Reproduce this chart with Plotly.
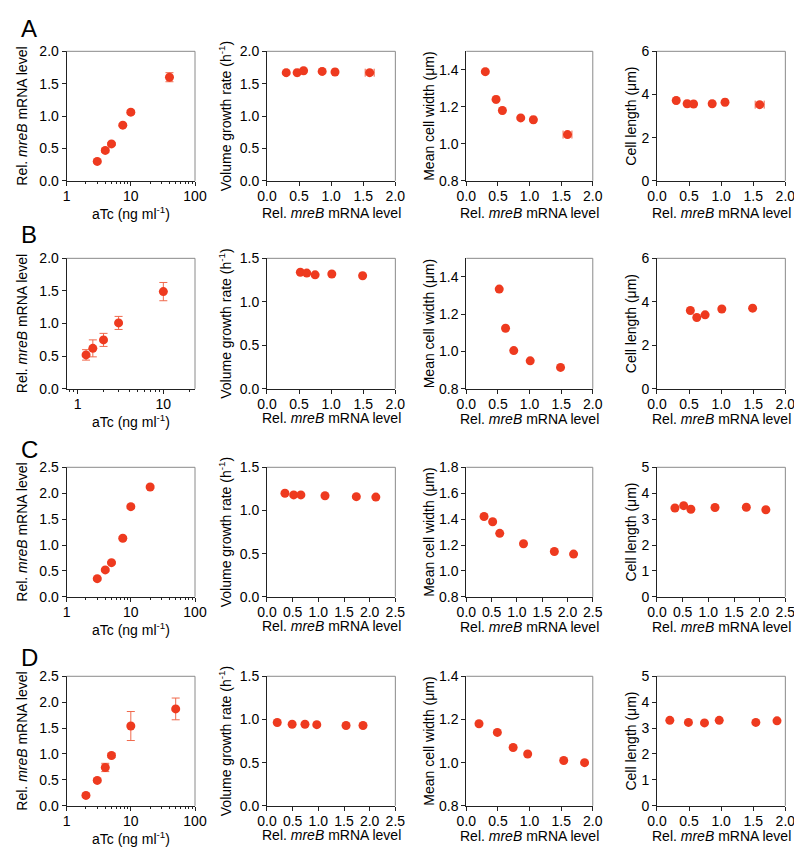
import plotly.graph_objects as go

# ---------------- data ----------------
# Row A
A_atc = [3, 4, 5, 7.5, 10, 40]
A_mrna = [0.30, 0.47, 0.57, 0.86, 1.06, 1.60]
A_mrna_err = [0.02, 0.03, 0.02, 0.02, 0.03, 0.07]
A_growth = [1.67, 1.67, 1.70, 1.69, 1.68, 1.67]
A_width = [1.39, 1.24, 1.18, 1.14, 1.13, 1.05]
A_length = [3.72, 3.57, 3.56, 3.57, 3.64, 3.53]

# Row B
B_atc = [1.25, 1.5, 2, 3, 10]
B_mrna = [0.52, 0.62, 0.75, 1.01, 1.49]
B_mrna_err = [0.08, 0.13, 0.10, 0.10, 0.14]
B_growth = [1.34, 1.33, 1.31, 1.32, 1.30]
B_width = [1.335, 1.125, 1.005, 0.95, 0.915]
B_length = [3.60, 3.28, 3.40, 3.67, 3.71]

# Row C
C_atc = [3, 4, 5, 7.5, 10, 20]
C_mrna = [0.35, 0.52, 0.66, 1.13, 1.74, 2.12]
C_mrna_err = [0.02, 0.02, 0.02, 0.03, 0.03, 0.03]
C_growth = [1.20, 1.18, 1.18, 1.17, 1.16, 1.155]
C_width = [1.42, 1.38, 1.29, 1.21, 1.15, 1.13]
C_length = [3.43, 3.52, 3.38, 3.45, 3.46, 3.36]

# Row D
D_atc = [2, 3, 4, 5, 10, 50]
D_mrna = [0.20, 0.49, 0.74, 0.97, 1.54, 1.87]
D_mrna_err = [0.03, 0.03, 0.08, 0.04, 0.28, 0.21]
D_growth = [0.965, 0.945, 0.945, 0.94, 0.93, 0.93]
D_width = [1.18, 1.14, 1.07, 1.04, 1.01, 1.00]
D_length = [3.30, 3.22, 3.20, 3.30, 3.22, 3.28]

panel_labels = ["A", "B", "C", "D"]

# axis ranges per row
atc_log_ranges = [[0, 2], [-0.13, 1.37], [0, 2], [0, 2]]
atc_tickvals = [[1, 10, 100], [1, 10], [1, 10, 100], [1, 10, 100]]
mrna_y_ranges = [[0, 2.0], [0, 2.0], [0, 2.5], [0, 2.5]]
growth_y_ranges = [[0, 2.0], [0, 1.5], [0, 1.5], [0, 1.5]]
width_y_ranges = [[0.8, 1.5], [0.8, 1.5], [0.8, 1.8], [0.8, 1.4]]
length_y_ranges = [[0, 6], [0, 6], [0, 5], [0, 5]]
length_dticks = [2, 2, 1, 1]
mrna_x_ranges = [
    [[0, 2.0], [0, 2.0], [0, 2.0]],
    [[0, 2.0], [0, 2.0], [0, 2.0]],
    [[0, 2.5], [0, 2.5], [0, 2.5]],
    [[0, 2.5], [0, 2.0], [0, 2.0]],
]

rows = [
    (A_atc, A_mrna, A_mrna_err, A_growth, A_width, A_length, True),
    (B_atc, B_mrna, B_mrna_err, B_growth, B_width, B_length, False),
    (C_atc, C_mrna, C_mrna_err, C_growth, C_width, C_length, False),
    (D_atc, D_mrna, D_mrna_err, D_growth, D_width, D_length, False),
]

# ---------------- layout geometry ----------------
W, H = 802, 847
col_px = [(50, 182), (256, 388), (461, 591), (657, 789)]
row_px = [(36, 168), (247, 380), (460, 592), (673, 805)]
letter_y = [13, 223, 442, 654]
# distance (px) from x axis line to centre of x-axis title
xtitle_shift = [
    [32, 32, 32, 32],
    [32, 29, 30, 30],
    [32, 29, 30, 30],
    [32, 29, 30, 30],
]
ytitle_standoff = [8, 4, 1, 1]

FONT = "Arial, Liberation Sans, Helvetica, sans-serif"
RED = "#EE3A1F"
ERR = "#F0694C"

mreb_title = "Rel. <i>mreB</i> mRNA level"
ytitles = [mreb_title, "Volume growth rate (h<sup>-1</sup>)",
           "Mean cell width (μm)", "Cell length (μm)"]
xtitles = ["aTc (ng ml<sup>-1</sup>)", mreb_title, mreb_title, mreb_title]

fig = go.Figure()
layout = dict(
    width=W, height=H, margin=dict(l=0, r=0, t=0, b=0),
    paper_bgcolor="white", plot_bgcolor="white", showlegend=False,
    font=dict(family=FONT, size=14, color="black"),
)
shapes = []
annotations = []


def axis_common():
    return dict(
        showgrid=False, zeroline=False, showline=True, linecolor="#222",
        linewidth=1, ticks="outside", ticklen=4, tickwidth=1, tickcolor="#222",
        tickfont=dict(family=FONT, size=14, color="black"),
        title_font=dict(family=FONT, size=14, color="black"),
    )


idx = 0
for r, (atc, mrna, merr, growth, width, length, show_xerr) in enumerate(rows):
    y0, y1 = row_px[r]
    ydom = [1 - y1 / H, 1 - y0 / H]
    ydata = [mrna, growth, width, length]
    for c in range(4):
        idx += 1
        xname = "x" if idx == 1 else f"x{idx}"
        yname = "y" if idx == 1 else f"y{idx}"
        xkey = "xaxis" if idx == 1 else f"xaxis{idx}"
        ykey = "yaxis" if idx == 1 else f"yaxis{idx}"
        x0p, x1p = col_px[c]
        xdom = [x0p / W, x1p / W]

        xa = axis_common()
        ya = axis_common()
        xa.update(domain=xdom, anchor=yname, ticklabelstandoff=-2)
        ya.update(domain=ydom, anchor=xname)

        if c == 0:
            fig.add_trace(go.Scatter(
                x=atc, y=mrna, mode="markers", xaxis=xname, yaxis=yname,
                marker=dict(color=RED, size=9),
                error_y=dict(type="data", array=merr, color=ERR, thickness=1, width=4),
                cliponaxis=False,
            ))
            xa.update(type="log", range=atc_log_ranges[r],
                      tickvals=atc_tickvals[r],
                      ticktext=[str(v) for v in atc_tickvals[r]],
                      minor=dict(ticks="outside", ticklen=2, tickcolor="#222",
                                 dtick="D1", showgrid=False))
            ya.update(range=mrna_y_ranges[r], dtick=0.5, tickformat=".1f")
        else:
            ex = dict(type="data", array=merr, color=ERR, thickness=1, width=4,
                      visible=show_xerr)
            fig.add_trace(go.Scatter(
                x=mrna, y=ydata[c], mode="markers", xaxis=xname, yaxis=yname,
                marker=dict(color=RED, size=9),
                error_x=ex, cliponaxis=False,
            ))
            xa.update(range=mrna_x_ranges[r][c - 1], dtick=0.5, tickformat=".1f")
            if c == 1:
                ya.update(range=growth_y_ranges[r], dtick=0.5, tickformat=".1f")
            elif c == 2:
                ya.update(range=width_y_ranges[r], dtick=0.2, tickformat=".1f")
            else:
                ya.update(range=length_y_ranges[r], dtick=length_dticks[r],
                          tickformat="d")
        ya.update(title=dict(text=ytitles[c], standoff=ytitle_standoff[c]))

        layout[xkey] = xa
        layout[ykey] = ya

        # x-axis title
        annotations.append(dict(
            text=xtitles[c], xref=f"{xname} domain", yref=f"{yname} domain",
            x=0.5, y=0, xanchor="center", yanchor="middle",
            yshift=-xtitle_shift[r][c], showarrow=False,
            font=dict(family=FONT, size=14, color="black"),
        ))

        # light gray frame on top/right
        shapes.append(dict(type="line", xref=f"{xname} domain", yref=f"{yname} domain",
                           x0=0, x1=1, y0=1, y1=1, line=dict(color="#8a8a8a", width=1)))
        shapes.append(dict(type="line", xref=f"{xname} domain", yref=f"{yname} domain",
                           x0=1, x1=1, y0=0, y1=1, line=dict(color="#8a8a8a", width=1)))

    annotations.append(dict(
        text=panel_labels[r], xref="paper", yref="paper", x=1 / W,
        y=1 - letter_y[r] / H, xanchor="left", yanchor="middle", showarrow=False,
        font=dict(family=FONT, size=24, color="black"),
    ))

layout["shapes"] = shapes
layout["annotations"] = annotations
fig.update_layout(**layout)
fig.write_html("out.html")
